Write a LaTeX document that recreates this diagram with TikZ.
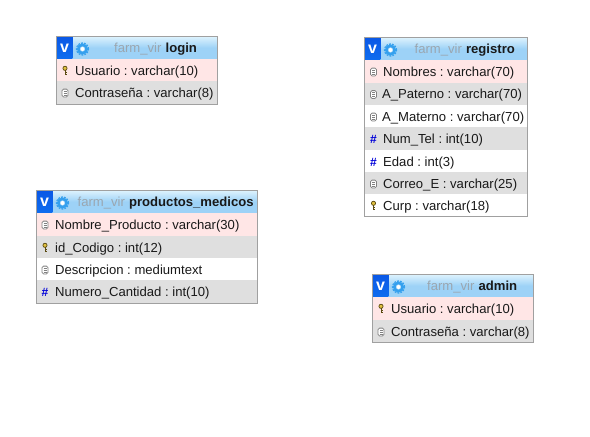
\documentclass[tikz,border=0pt]{standalone}
\usepackage{fontspec}
\setmainfont{Liberation Sans}
\frenchspacing
\definecolor{rowpink}{HTML}{FFE6E6}
\definecolor{rowgray}{HTML}{DFDFDF}
\definecolor{frame}{HTML}{A0A0A0}
\definecolor{hdtop}{HTML}{DDF2FD}
\definecolor{hdbot}{HTML}{9DD2F7}
\definecolor{dbname}{HTML}{9AA6B0}
\definecolor{gearblue}{HTML}{35A0EE}
\definecolor{keygold}{HTML}{E0C040}
\definecolor{keydark}{HTML}{5A4A10}
\definecolor{docgray}{HTML}{808080}
\definecolor{vtop}{HTML}{0A58E6}
\definecolor{vbot}{HTML}{0E6CEE}
\tikzset{
  x=1pt,y=-1pt,
  rowtext/.style={anchor=base west,inner sep=0pt,font=\fontsize{13.1}{15}\selectfont,text=black!90},
  hdname/.style={anchor=base west,inner sep=0pt,font=\fontsize{13.1}{15}\selectfont,text=dbname},
  hdbold/.style={anchor=base west,inner sep=0pt,font=\fontsize{13.1}{15}\selectfont\bfseries,text=black!90},
  hashicon/.style={inner sep=0pt,font=\fontsize{12}{12}\selectfont\bfseries,text=blue!85!black},
  vicon/.style={inner sep=0pt,font=\fontsize{16}{16}\selectfont\bfseries,text=white},
  tblframe/.style={draw=frame,line width=1pt}
}
% header: left right top bottom  titlex  id  name
\newcommand{\hdr}[7]{%
  \shade[top color=hdtop,bottom color=hdbot,middle color=hdbot] (#1,#3) rectangle (#2,#4);
  \shade[top color=vtop,bottom color=vbot] (#1,#3) rectangle (#1+15.8,#4-1);
  \node[vicon] at (#1+8,#3+12) {v};
  \draw[gearblue,line width=2.6pt] (#1+26,#3+12.5) circle (4.2pt);
  \draw[gearblue,line width=1.2pt,dash pattern=on 1.8pt off 1.2pt] (#1+26,#3+12.5) circle (6pt);
  \fill[white] (#1+26,#3+12.5) circle (2pt);
  \node[hdname] (#6a) at (#5,#3+15.5) {farm\_vir};
  \node[hdbold,anchor=base west] (#6b) at ([xshift=3.7pt]#6a.base east) {#7};
}
\newcommand{\keyic}[2]{%
  \draw[keydark,line width=.7pt,fill=keygold] (#1,#2-2.2) circle (2.1pt);
  \draw[keydark,line width=1pt] (#1,#2-.2) -- (#1,#2+4.6);
  \draw[keydark,line width=.7pt] (#1,#2+2.2) -- (#1+1.8,#2+2.2) (#1,#2+4.2) -- (#1+1.8,#2+4.2);
}
\newcommand{\docic}[2]{%
  \draw[docgray,line width=.8pt,fill=white,rounded corners=1.5pt] (#1-3,#2-3.4) rectangle (#1+3,#2+4.4);
  \draw[docgray,line width=.6pt] (#1-1.5,#2-1.4) -- (#1+1.5,#2-1.4) (#1-1.5,#2+.6) -- (#1+1.5,#2+.6) (#1-1.5,#2+2.5) -- (#1+1.5,#2+2.5);
}
\newcommand{\hashic}[2]{\node[hashicon] at (#1,#2+.8) {\#};}
% row: left right top bottom fill iconcmd iconx textx text
\newcommand{\trow}[9]{%
  \fill[#5] (#1,#3) rectangle (#2,#4);
  \csname #6ic\endcsname{#7}{#3+11.5}
  \node[rowtext] at (#8,#3+16.3) {#9};
}
\begin{document}
\begin{tikzpicture}
\useasboundingbox (0,0) rectangle (590,437);
\fill[white] (0,0) rectangle (590,437);
% login
\hdr{56.5}{217}{36.5}{59}{114}{login}{login}
\trow{56.5}{217}{59}{81}{rowpink}{key}{65}{75}{Usuario : varchar(10)}
\trow{56.5}{217}{81}{104}{rowgray}{doc}{65}{75}{Contraseña : varchar(8)}
\draw[tblframe] (56.5,36.5) rectangle (217,104);
% registro
\hdr{364.5}{527.5}{37.5}{60}{414.5}{registro}{registro}
\trow{364.5}{527.5}{60}{82.5}{rowpink}{doc}{373.5}{383}{Nombres : varchar(70)}
\trow{364.5}{527.5}{82.5}{105}{rowgray}{doc}{373.5}{382}{A\_Paterno : varchar(70)}
\trow{364.5}{527.5}{105}{127}{white}{doc}{373.5}{382}{A\_Materno : varchar(70)}
\trow{364.5}{527.5}{127}{150}{rowgray}{hash}{373.5}{383}{Num\_Tel : int(10)}
\trow{364.5}{527.5}{150}{172}{white}{hash}{373.5}{383}{Edad : int(3)}
\trow{364.5}{527.5}{172}{194}{rowgray}{doc}{373.5}{383}{Correo\_E : varchar(25)}
\trow{364.5}{527.5}{194}{216}{white}{key}{373.5}{383}{Curp : varchar(18)}
\draw[tblframe] (364.5,37.5) rectangle (527.5,216);
% productos_medicos
\hdr{36.5}{257.5}{190.5}{213}{77.5}{productos}{productos\_medicos}
\trow{36.5}{257.5}{213}{236}{rowpink}{doc}{45}{55}{Nombre\_Producto : varchar(30)}
\trow{36.5}{257.5}{236}{258}{rowgray}{key}{45}{55}{id\_Codigo : int(12)}
\trow{36.5}{257.5}{258}{280}{white}{doc}{45}{55}{Descripcion : mediumtext}
\trow{36.5}{257.5}{280}{303}{rowgray}{hash}{45}{55}{Numero\_Cantidad : int(10)}
\draw[tblframe] (36.5,190.5) rectangle (257.5,303);
% admin
\hdr{372.5}{533}{274.5}{297}{427}{admin}{admin}
\trow{372.5}{533}{297}{320}{rowpink}{key}{381}{391}{Usuario : varchar(10)}
\trow{372.5}{533}{320}{342.5}{rowgray}{doc}{381}{391}{Contraseña : varchar(8)}
\draw[tblframe] (372.5,274.5) rectangle (533,342.5);
\end{tikzpicture}
\end{document}
